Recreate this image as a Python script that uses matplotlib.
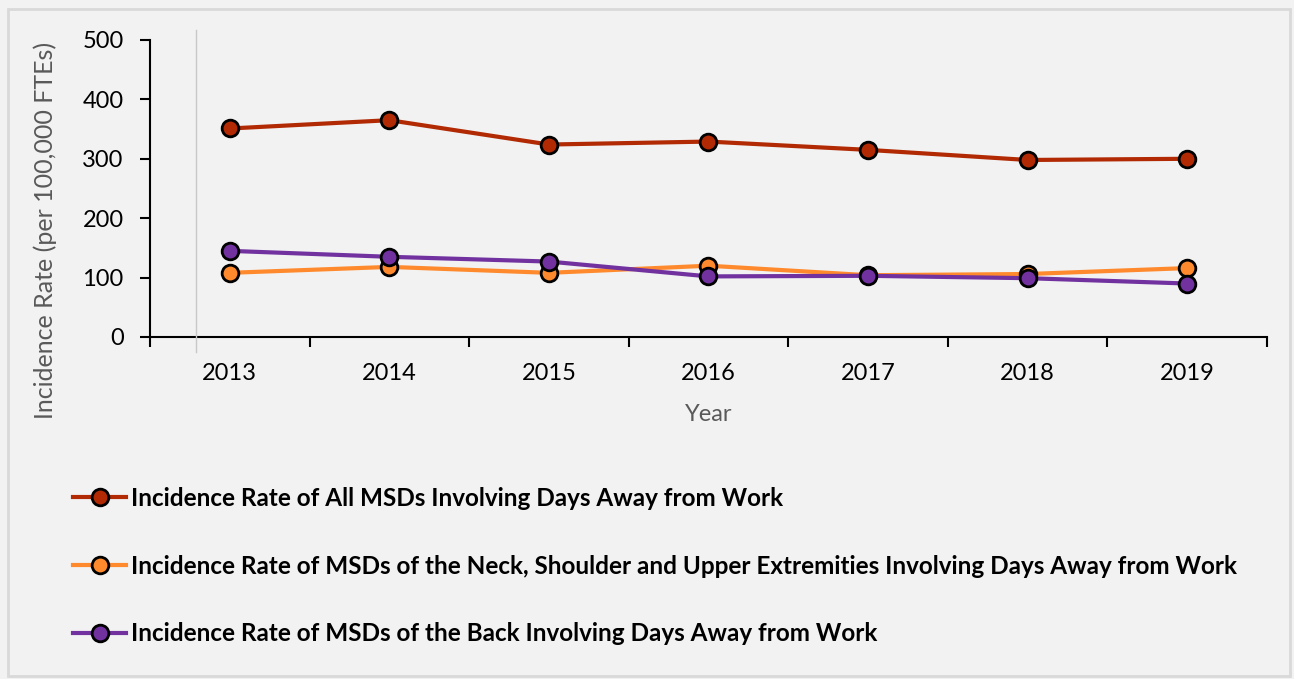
import matplotlib.pyplot as plt
from matplotlib.lines import Line2D
from matplotlib.patches import Rectangle

plt.rcParams['font.family'] = ['Lato', 'DejaVu Sans']

years = ['2013', '2014', '2015', '2016', '2017', '2018', '2019']
all_msds = [351, 365, 324, 329, 315, 298, 300]
neck_upper = [108, 118, 108, 120, 104, 106, 116]
back = [145, 135, 127, 102, 103, 99, 90]

labels = ['Incidence Rate of All MSDs Involving Days Away from Work',
          'Incidence Rate of MSDs of the Neck, Shoulder and Upper Extremities Involving Days Away from Work',
          'Incidence Rate of MSDs of the Back Involving Days Away from Work']
colors = ['#B12A04', '#FF8A2D', '#7132A0']

bg = '#f2f2f2'
fig = plt.figure(figsize=(12.94, 6.79), dpi=100, facecolor=bg)
ax = fig.add_axes([0.1159, 0.5037, 0.8632, 0.4374], facecolor=bg)

xs = range(len(years))
handles = []
for vals, c, lab in zip([all_msds, neck_upper, back], colors, labels):
    h, = ax.plot(xs, vals, '-o', color=c, lw=3, ms=12, mfc=c, mec='black',
                 mew=2, label=lab, zorder=3)
    handles.append(h)

ax.set_ylim(0, 500)
ax.set_yticks([0, 100, 200, 300, 400, 500])
ax.set_xlim(-0.5, len(years) - 0.5)
ax.set_xticks(list(xs))
ax.set_xticklabels(years)
ax.set_xticks([i - 0.5 for i in range(len(years) + 1)], minor=True)
ax.tick_params(axis='x', which='major', length=0, pad=19, labelsize=17)
ax.tick_params(axis='x', which='minor', length=7, width=1.5, direction='out')
ax.tick_params(axis='y', length=7, width=1.5, pad=12, labelsize=17)
for s in ['top', 'right']:
    ax.spines[s].set_visible(False)
for s in ['left', 'bottom']:
    ax.spines[s].set_linewidth(1.5)

ax.set_xlabel('Year', fontsize=17, color='#595959', labelpad=14)
ax.set_ylabel('Incidence Rate (per 100,000 FTEs)', fontsize=18, color='#595959')
ax.yaxis.set_label_coords(-0.083, 0.36)

leg = fig.legend(handles=handles, loc='upper left', bbox_to_anchor=(0.0395, 0.315),
                 frameon=False, handlelength=2.2, handletextpad=0.2,
                 labelspacing=1.84, prop={'weight': 'bold', 'size': 17.5})

# thin grey vertical line near the y-axis
fig.add_artist(Line2D([196 / 1294, 196 / 1294], [1 - 30 / 679, 1 - 352 / 679],
                      color='#c8c8c8', lw=1))
# outer frame
fig.add_artist(Rectangle((8 / 1294, 3 / 679), 1282 / 1294, 667 / 679,
                         fill=False, ec='#d9d9d9', lw=2, transform=fig.transFigure))

fig.savefig('out.png', dpi=100, facecolor=bg)
